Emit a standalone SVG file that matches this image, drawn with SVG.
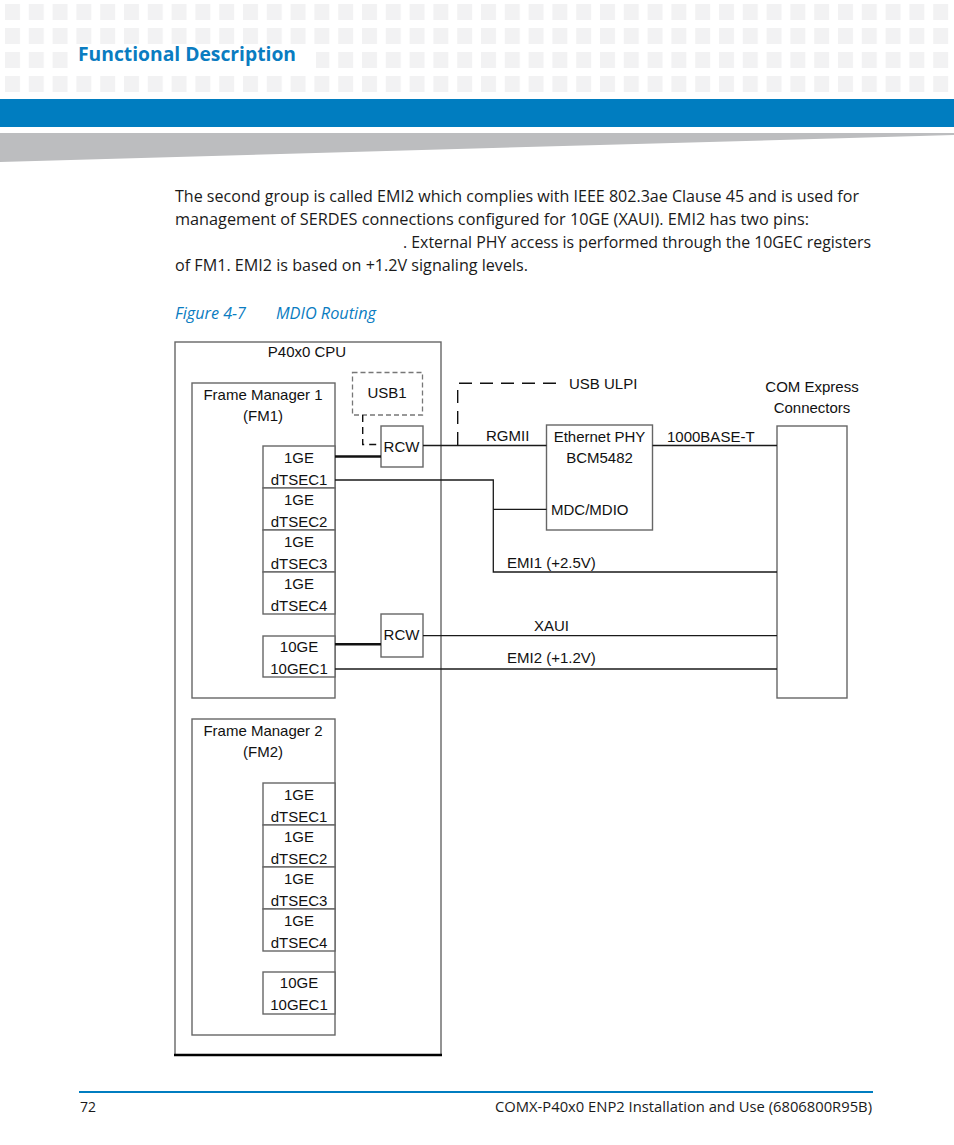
<svg xmlns="http://www.w3.org/2000/svg" width="954" height="1145" viewBox="0 0 954 1145">
<defs>
<pattern id="sq" patternUnits="userSpaceOnUse" x="5" y="4" width="23.8" height="24">
<rect x="0" y="0" width="15" height="16" fill="#f2f2f3"/>
</pattern>
<style>
.body{font-family:"Open Sans","Liberation Sans",sans-serif;font-size:16px;fill:#1a1a1a}
.cap{font-family:"Open Sans","Liberation Sans",sans-serif;font-size:16px;font-style:italic;fill:#0a7cc1}
.d{font-family:"Liberation Sans",Arial,sans-serif;font-size:15px;fill:#111}
.m{text-anchor:middle}
.box{fill:#fff;stroke:#666;stroke-width:1.4}
.ln{fill:none;stroke:#1a1a1a;stroke-width:1.3}
.thk{fill:none;stroke:#111;stroke-width:2.6}
.dash{fill:none;stroke:#111;stroke-width:1.4;stroke-dasharray:13 8}
.dash2{fill:none;stroke:#111;stroke-width:1.4;stroke-dasharray:7 5}
</style>
</defs>
<rect x="0" y="0" width="954" height="1145" fill="#fff"/>
<g id="header">
<rect x="0" y="0" width="954" height="96" fill="url(#sq)"/>
<rect x="70" y="46" width="246" height="24" fill="#fff"/>
<text x="78" y="61" font-family="'Open Sans','Liberation Sans',sans-serif" font-size="20" font-weight="bold" fill="#0a7cc1" textLength="218" lengthAdjust="spacingAndGlyphs">Functional Description</text>
<rect x="0" y="99" width="954" height="28" fill="#007dc0"/>
<polygon points="0,133 954,133 954,135 0,162" fill="#bcbdbf"/>
</g>
<g id="bodytext">
<text class="body" x="175" y="202" textLength="684" lengthAdjust="spacingAndGlyphs">The second group is called EMI2 which complies with IEEE 802.3ae Clause 45 and is used for</text>
<text class="body" x="175" y="225" textLength="634" lengthAdjust="spacingAndGlyphs">management of SERDES connections configured for 10GE (XAUI). EMI2 has two pins:</text>
<text class="body" x="403" y="248" textLength="468" lengthAdjust="spacingAndGlyphs">. External PHY access is performed through the 10GEC registers</text>
<text class="body" x="175" y="271" textLength="353" lengthAdjust="spacingAndGlyphs">of FM1. EMI2 is based on +1.2V signaling levels.</text>
<text class="cap" x="175" y="319" textLength="71" lengthAdjust="spacingAndGlyphs">Figure 4-7</text>
<text class="cap" x="276" y="319" textLength="100" lengthAdjust="spacingAndGlyphs">MDIO Routing</text>
</g>
<g id="cpu">
<rect class="box" x="175" y="342" width="266" height="713"/>
<line x1="174" y1="1055" x2="442" y2="1055" stroke="#000" stroke-width="2.6"/>
<text class="d m" x="307" y="357">P40x0 CPU</text>
</g>
<g id="fm1">
<rect class="box" x="192" y="383" width="143" height="315"/>
<text class="d m" x="263" y="400">Frame Manager 1</text>
<text class="d m" x="263" y="421">(FM1)</text>
</g>
<g id="fm1-dtsec1"><rect class="box" x="263" y="446" width="72" height="42"/><text class="d m" x="299" y="463">1GE</text><text class="d m" x="299" y="484.5">dTSEC1</text></g>
<g id="fm1-dtsec2"><rect class="box" x="263" y="488" width="72" height="42"/><text class="d m" x="299" y="505">1GE</text><text class="d m" x="299" y="526.5">dTSEC2</text></g>
<g id="fm1-dtsec3"><rect class="box" x="263" y="530" width="72" height="42"/><text class="d m" x="299" y="547">1GE</text><text class="d m" x="299" y="568.5">dTSEC3</text></g>
<g id="fm1-dtsec4"><rect class="box" x="263" y="572" width="72" height="42"/><text class="d m" x="299" y="589">1GE</text><text class="d m" x="299" y="610.5">dTSEC4</text></g>
<g id="fm1-10gec1"><rect class="box" x="263" y="636" width="72" height="41"/><text class="d m" x="299" y="652">10GE</text><text class="d m" x="299" y="674">10GEC1</text></g>
<g id="fm2">
<rect class="box" x="192" y="719" width="143" height="316"/>
<text class="d m" x="263" y="736">Frame Manager 2</text>
<text class="d m" x="263" y="757">(FM2)</text>
</g>
<g id="fm2-dtsec1"><rect class="box" x="263" y="783" width="72" height="42"/><text class="d m" x="299" y="800">1GE</text><text class="d m" x="299" y="821.5">dTSEC1</text></g>
<g id="fm2-dtsec2"><rect class="box" x="263" y="825" width="72" height="42"/><text class="d m" x="299" y="842">1GE</text><text class="d m" x="299" y="863.5">dTSEC2</text></g>
<g id="fm2-dtsec3"><rect class="box" x="263" y="867" width="72" height="42"/><text class="d m" x="299" y="884">1GE</text><text class="d m" x="299" y="905.5">dTSEC3</text></g>
<g id="fm2-dtsec4"><rect class="box" x="263" y="909" width="72" height="42"/><text class="d m" x="299" y="926">1GE</text><text class="d m" x="299" y="947.5">dTSEC4</text></g>
<g id="fm2-10gec1"><rect class="box" x="263" y="972" width="72" height="42"/><text class="d m" x="299" y="988">10GE</text><text class="d m" x="299" y="1010">10GEC1</text></g>
<g id="usb1">
<rect x="352.5" y="372.5" width="70" height="42.5" fill="#fff" stroke="#777" stroke-width="1.3" stroke-dasharray="5 3"/>
<text class="d m" x="387" y="398">USB1</text>
</g>
<g id="rcw1"><rect class="box" x="381" y="426" width="42" height="41"/><text class="d m" x="401.5" y="452">RCW</text></g>
<g id="rcw2"><rect class="box" x="381" y="614" width="42" height="43"/><text class="d m" x="401.5" y="640">RCW</text></g>
<g id="phy">
<rect class="box" x="546.5" y="425" width="106" height="105"/>
<text class="d m" x="599.5" y="442">Ethernet PHY</text>
<text class="d m" x="599.5" y="463">BCM5482</text>
<text class="d" x="551" y="515">MDC/MDIO</text>
</g>
<g id="comexpress">
<rect class="box" x="777" y="426" width="70" height="272"/>
<text class="d m" x="812" y="392">COM Express</text>
<text class="d m" x="812" y="413">Connectors</text>
</g>
<g id="connectors">
<path class="dash2" d="M362.7,415 V444.5 H381"/>
<path class="thk" d="M335,456.5 H381"/>
<path class="ln" d="M423,445.5 H546.5"/>
<path class="dash" d="M457.7,445 V383.3 H562"/>
<path class="ln" d="M652.5,445.5 H777"/>
<path class="ln" d="M335,480 H493.3 V572 H777"/>
<path class="ln" d="M493.3,509.3 H546.5"/>
<path class="thk" d="M335,644.3 H381"/>
<path class="ln" d="M423,635.7 H777"/>
<path class="ln" d="M335,669 H777"/>
<text class="d" x="569" y="389">USB ULPI</text>
<text class="d" x="486" y="441">RGMII</text>
<text class="d" x="667" y="442">1000BASE-T</text>
<text class="d" x="507" y="568">EMI1 (+2.5V)</text>
<text class="d" x="534" y="631">XAUI</text>
<text class="d" x="507" y="663">EMI2 (+1.2V)</text>
</g>
<g id="footer">
<line x1="79" y1="1092" x2="873" y2="1092" stroke="#007dc0" stroke-width="2"/>
<text x="80" y="1112" font-family="'Open Sans','Liberation Sans',sans-serif" font-size="15" fill="#1a1a1a" textLength="16" lengthAdjust="spacingAndGlyphs">72</text>
<text x="872" y="1112" text-anchor="end" font-family="'Open Sans','Liberation Sans',sans-serif" font-size="15" fill="#1a1a1a" textLength="377" lengthAdjust="spacingAndGlyphs">COMX-P40x0 ENP2 Installation and Use (6806800R95B)</text>
</g>
</svg>
